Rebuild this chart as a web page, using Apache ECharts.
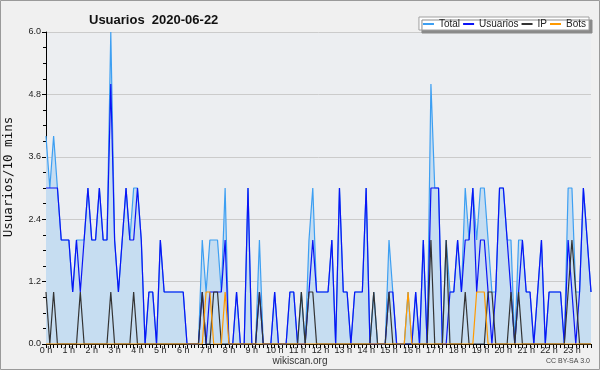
<!DOCTYPE html>
<html>
<head>
<meta charset="utf-8">
<script src="https://cdn.jsdelivr.net/npm/echarts@6/dist/echarts.min.js"></script>
<style>
  html, body { margin: 0; padding: 0; background: #f0f0f0; }
  #chart { width: 600px; height: 370px; }
</style>
</head>
<body>
<div id="chart"></div>
<script>
// one value per 10 minutes, 00:00 .. 23:50 (144 points)
const total = [
  4,3,4,3,2,2, 2,1,2,2,2,3, 2,2,3,2,2,6, 2,1,2,3,2,3, 3,2,0,1,1,0, 2,1,1,1,1,1,
  1,0,0,0,0,2, 1,2,2,2,1,3, 0,0,1,0,0,3, 0,0,2,0,0,0, 1,0,0,0,1,1, 0,1,0,2,3,1,
  1,1,1,2,0,3, 1,1,0,1,1,1, 3,0,1,0,0,0, 2,1,0,0,0,1, 0,1,0,2,0,5, 3,3,0,2,1,1,
  2,1,3,2,3,2, 3,3,2,1,1,3, 3,2,2,0,2,2, 1,1,0,1,2,0, 1,1,1,1,0,3, 3,1,1,3,2,1
]
const usuarios = [
  3,3,3,3,2,2, 2,1,2,1,2,3, 2,2,3,2,2,5, 2,1,2,3,2,2, 3,2,0,1,1,0, 2,1,1,1,1,1,
  1,0,0,0,0,1, 0,1,1,1,1,2, 0,0,1,0,0,3, 0,0,1,0,0,0, 1,0,0,0,1,1, 0,0,0,1,2,1,
  1,1,1,2,0,3, 1,1,0,1,1,1, 3,0,0,0,0,0, 1,1,0,0,0,0, 0,1,0,2,0,3, 3,3,0,0,1,1,
  2,1,2,2,3,1, 2,2,1,0,1,3, 3,2,1,0,1,2, 1,1,0,1,2,0, 1,1,1,1,0,2, 1,0,1,3,2,1
]
const ip = [
  1,0,1,0,0,0, 0,0,0,1,0,0, 0,0,0,0,0,1, 0,0,0,0,0,1, 0,0,0,0,0,0, 0,0,0,0,0,0,
  0,0,0,0,0,1, 0,0,1,1,0,0, 0,0,0,0,0,0, 0,0,1,0,0,0, 0,0,0,0,0,0, 0,1,0,1,1,0,
  0,0,0,0,0,0, 0,0,0,0,0,0, 0,0,1,0,0,0, 1,0,0,0,0,0, 0,0,0,0,0,2, 0,0,0,2,0,0,
  0,0,1,0,0,0, 0,0,1,1,0,0, 0,0,1,0,1,0, 0,0,0,0,0,0, 0,0,0,0,0,1, 2,1,0,0,0,0
]
const bots = [
  0,0,0,0,0,0, 0,0,0,0,0,0, 0,0,0,0,0,0, 0,0,0,0,0,0, 0,0,0,0,0,0, 0,0,0,0,0,0,
  0,0,0,0,0,0, 1,1,0,0,0,1, 0,0,0,0,0,0, 0,0,0,0,0,0, 0,0,0,0,0,0, 0,0,0,0,0,0,
  0,0,0,0,0,0, 0,0,0,0,0,0, 0,0,0,0,0,0, 0,0,0,0,0,1, 0,0,0,0,0,0, 0,0,0,0,0,0,
  0,0,0,0,0,1, 1,1,0,0,0,0, 0,0,0,0,0,0, 0,0,0,0,0,0, 0,0,0,0,0,0, 0,0,0,0,0,0
]
const seriesNames = ['Total', 'Usuarios', 'IP', 'Bots']
const yTicks = [0, 1.2, 2.4, 3.6, 4.8, 6.0]

const font = "'Liberation Sans', Arial, sans-serif"
const colors = ['#3d9ff2', '#0a14f5', '#333333', '#ff9a00']

const chart = echarts.init(document.getElementById('chart'), null, { renderer: 'canvas' })

const toPoints = arr => arr.map((v, i) => [i, v])

const lineSeries = (name, arr, idx, extra) => Object.assign({
  name,
  type: 'line',
  data: toPoints(arr),
  showSymbol: false,
  symbol: 'none',
  animation: false,
  lineStyle: { color: colors[idx], width: 1.2 },
  itemStyle: { color: colors[idx] },
  z: 2 + idx
}, extra || {})

const option = {
  backgroundColor: '#f0f0f0',
  animation: false,
  title: {
    text: 'Usuarios  2020-06-22',
    left: 84,
    top: 9,
    textStyle: { fontFamily: font, fontSize: 13, fontWeight: 'bold', color: '#111' }
  },
  legend: {
    data: seriesNames,
    right: 11,
    top: 17,
    padding: [2, 3, 1, 4],
    itemGap: 3,
    itemWidth: 11,
    itemHeight: 2,
    icon: 'rect',
    backgroundColor: '#ffffff',
    borderColor: '#a0a0a0',
    borderWidth: 1,
    shadowColor: '#8a8a8a',
    shadowOffsetX: 3,
    shadowOffsetY: 3,
    shadowBlur: 0,
    textStyle: { fontFamily: font, fontSize: 10, color: '#222' }
  },
  grid: {
    left: 46,
    right: 9,
    top: 32,
    bottom: 26,
    outerBoundsMode: 'none',
    containLabel: false,
    show: true,
    backgroundColor: '#eceef1',
    borderWidth: 0
  },
  xAxis: {
    type: 'value',
    min: 0,
    max: 143,
    interval: 6,
    axisLine: { lineStyle: { color: '#000', width: 1 } },
    axisTick: { length: 4, lineStyle: { color: '#000' } },
    minorTick: { show: true, splitNumber: 6, length: 4, lineStyle: { color: '#000' } },
    splitLine: { show: false },
    axisLabel: {
      showMaxLabel: false,
      margin: 2,
      fontFamily: font,
      fontSize: 9,
      color: '#222',
      formatter: v => (v / 6) + ' h'
    }
  },
  yAxis: {
    type: 'value',
    min: yTicks[0],
    max: yTicks[yTicks.length - 1],
    interval: 1.2,
    axisLine: { show: true, lineStyle: { color: '#000', width: 1 } },
    axisTick: { show: true, length: 4, lineStyle: { color: '#000' } },
    minorTick: { show: true, splitNumber: 4, length: 3, lineStyle: { color: '#000' } },
    splitLine: { show: true, lineStyle: { color: '#cbcbcb', width: 1 } },
    axisLabel: {
      margin: 5,
      fontFamily: font,
      fontSize: 9,
      color: '#222',
      formatter: v => v.toFixed(1)
    }
  },
  graphic: [
    {
      type: 'rect',
      shape: { x: 0.5, y: 0.5, width: 599, height: 369 },
      style: { fill: null, stroke: '#9a9a9a', lineWidth: 1 },
      silent: true
    },
    {
      type: 'text',
      x: 9,
      y: 177,
      rotation: Math.PI / 2,
      style: {
        text: 'Usuarios/10 mins',
        font: "12.5px 'DejaVu Sans Mono', monospace",
        fill: '#111',
        align: 'center',
        verticalAlign: 'middle'
      }
    },
    {
      type: 'text',
      left: 'center',
      top: 356,
      style: { text: 'wikiscan.org', font: "10px 'Liberation Sans', Arial, sans-serif", fill: '#333' }
    },
    {
      type: 'text',
      right: 10,
      top: 358,
      style: { text: 'CC BY-SA 3.0', font: "7px 'Liberation Sans', Arial, sans-serif", fill: '#444' }
    }
  ],
  series: [
    lineSeries('Total', total, 0, {
      areaStyle: { color: '#c6ddf1', opacity: 1 }
    }),
    lineSeries('Usuarios', usuarios, 1),
    lineSeries('IP', ip, 2),
    lineSeries('Bots', bots, 3)
  ]
}

chart.setOption(option)
</script>
</body>
</html>
